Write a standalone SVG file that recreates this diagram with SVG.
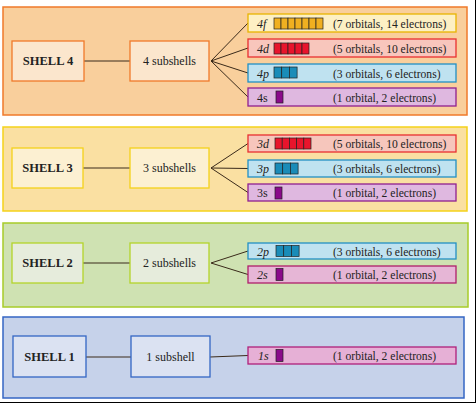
<svg xmlns="http://www.w3.org/2000/svg" width="476" height="403" viewBox="0 0 476 403">
<style>
text{font-family:"Liberation Serif","Times New Roman",serif;fill:#222;font-size:12px}
.sh{font-weight:bold;font-size:12.5px}
.ctr{text-anchor:middle}
.desc{font-size:11.6px}
.lab{font-style:italic;font-size:12px}
.up{font-style:normal}
.con line{stroke:#3a2a1a;stroke-width:1}
.box{stroke-width:1.3}
.orb{stroke:#222;stroke-width:0.7}
</style>
<rect width="476" height="403" fill="#ffffff"/>
<line x1="475.5" y1="0" x2="475.5" y2="403" stroke="#000" stroke-width="1"/>
<line x1="0" y1="402.5" x2="476" y2="402.5" stroke="#000" stroke-width="1"/>

<!-- panels -->
<g id="panel4"><rect x="3" y="7" width="464" height="108" fill="#f9cf9c" stroke="#f07a2a" stroke-width="1.5"/></g>
<g id="panel3"><rect x="3" y="127" width="464" height="84" fill="#fae0a2" stroke="#f5d21a" stroke-width="1.5"/></g>
<g id="panel2"><rect x="3" y="223" width="465" height="84" fill="#cfe2b2" stroke="#a8cc28" stroke-width="1.5"/></g>
<g id="panel1"><rect x="3" y="317" width="461" height="81" fill="#c6d2ea" stroke="#3466c4" stroke-width="1.5"/></g>

<g id="connectors" class="con">
<line x1="84" y1="61" x2="130" y2="61"/>
<line x1="211" y1="61" x2="248" y2="23"/>
<line x1="211" y1="61" x2="248" y2="48"/>
<line x1="211" y1="61" x2="248" y2="73"/>
<line x1="211" y1="61" x2="248" y2="97"/>
<line x1="83" y1="168" x2="130" y2="168"/>
<line x1="211" y1="168" x2="248" y2="143.5"/>
<line x1="211" y1="168" x2="248" y2="168.5"/>
<line x1="211" y1="168" x2="248" y2="192.5"/>
<line x1="83" y1="263" x2="130" y2="263"/>
<line x1="211" y1="263" x2="248" y2="251"/>
<line x1="211" y1="263" x2="248" y2="274.5"/>
<line x1="86" y1="357" x2="131" y2="357"/>
<line x1="210" y1="357" x2="248" y2="355.5"/>
</g>

<!-- shell 4 -->
<g id="shell4"><rect class="box" x="12" y="41" width="72" height="40" fill="#fbe6cd" stroke="#f07a2a"/><text class="sh ctr" x="48" y="65">SHELL 4</text></g>
<g id="sub4"><rect class="box" x="130" y="41" width="79" height="40" fill="#fbe6cd" stroke="#f07a2a"/><text class="ctr" x="169.5" y="65">4 subshells</text></g>
<g id="s4f"><rect x="248" y="14" width="208" height="18" fill="#fdf0c4" stroke="#e8b400" stroke-width="1.3"/>
<text class="lab" x="257" y="27.5">4f</text>
<g class="orb" fill="#f0b020"><rect x="274" y="18" width="7" height="11"/><rect x="281" y="18" width="7" height="11"/><rect x="288" y="18" width="7" height="11"/><rect x="295" y="18" width="7" height="11"/><rect x="302" y="18" width="7" height="11"/><rect x="309" y="18" width="7" height="11"/><rect x="316" y="18" width="7" height="11"/></g>
<text class="desc" x="333" y="27.5">(7 orbitals, 14 electrons)</text></g>
<g id="s4d"><rect x="248" y="39" width="208" height="18" fill="#f8c6bc" stroke="#e83030" stroke-width="1.3"/>
<text class="lab" x="257" y="52.5">4d</text>
<g class="orb" fill="#e8142c"><rect x="274" y="43" width="7" height="11"/><rect x="281" y="43" width="7" height="11"/><rect x="288" y="43" width="7" height="11"/><rect x="295" y="43" width="7" height="11"/><rect x="302" y="43" width="7" height="11"/></g>
<text class="desc" x="333" y="52.5">(5 orbitals, 10 electrons)</text></g>
<g id="s4p"><rect x="248" y="64" width="208" height="18" fill="#bfe2f0" stroke="#2290c4" stroke-width="1.3"/>
<text class="lab" x="257" y="77.5">4p</text>
<g class="orb" fill="#1a8cb8"><rect x="274" y="67" width="7.7" height="11"/><rect x="281.7" y="67" width="7.7" height="11"/><rect x="289.4" y="67" width="7.7" height="11"/></g>
<text class="desc" x="333" y="77.5">(3 orbitals, 6 electrons)</text></g>
<g id="s4s"><rect x="248" y="88" width="208" height="18" fill="#dfb8e0" stroke="#902090" stroke-width="1.3"/>
<text x="257" y="101.5">4s</text>
<rect class="orb" x="276" y="91" width="7" height="12" fill="#8a0a8a"/>
<text class="desc" x="333" y="101.5">(1 orbital, 2 electrons)</text></g>

<!-- shell 3 -->
<g id="shell3"><rect class="box" x="12" y="148" width="71" height="40" fill="#fcf0d2" stroke="#f5d21a"/><text class="sh ctr" x="47.5" y="172">SHELL 3</text></g>
<g id="sub3"><rect class="box" x="130" y="148" width="79" height="40" fill="#fcf0d2" stroke="#f5d21a"/><text class="ctr" x="169.5" y="172">3 subshells</text></g>
<g id="s3d"><rect x="248" y="135" width="208" height="17" fill="#f6c6bc" stroke="#e83030" stroke-width="1.3"/>
<text class="lab" x="257" y="148">3d</text>
<g class="orb" fill="#e8142c"><rect x="275" y="138" width="7.2" height="11"/><rect x="282.2" y="138" width="7.2" height="11"/><rect x="289.4" y="138" width="7.2" height="11"/><rect x="296.6" y="138" width="7.2" height="11"/><rect x="303.8" y="138" width="7.2" height="11"/></g>
<text class="desc" x="333" y="148">(5 orbitals, 10 electrons)</text></g>
<g id="s3p"><rect x="248" y="160" width="208" height="17" fill="#bfe2f0" stroke="#2290c4" stroke-width="1.3"/>
<text class="lab" x="257" y="173">3p</text>
<g class="orb" fill="#1a8cb8"><rect x="275" y="163" width="7.7" height="11"/><rect x="282.7" y="163" width="7.7" height="11"/><rect x="290.4" y="163" width="7.7" height="11"/></g>
<text class="desc" x="333" y="173">(3 orbitals, 6 electrons)</text></g>
<g id="s3s"><rect x="248" y="184" width="208" height="17" fill="#dfb8e0" stroke="#902090" stroke-width="1.3"/>
<text x="257" y="197">3s</text>
<rect class="orb" x="275" y="187" width="7" height="12" fill="#8a0a8a"/>
<text class="desc" x="333" y="197">(1 orbital, 2 electrons)</text></g>

<!-- shell 2 -->
<g id="shell2"><rect class="box" x="12" y="243" width="71" height="40" fill="#e6ecdc" stroke="#b4d42a"/><text class="sh ctr" x="47.5" y="267">SHELL 2</text></g>
<g id="sub2"><rect class="box" x="130" y="243" width="79" height="40" fill="#e6ecdc" stroke="#b4d42a"/><text class="ctr" x="169.5" y="267">2 subshells</text></g>
<g id="s2p"><rect x="248" y="243" width="208" height="16" fill="#bfe2f0" stroke="#2290c4" stroke-width="1.3"/>
<text class="lab" x="257" y="255.5">2p</text>
<g class="orb" fill="#1a8cb8"><rect x="276" y="245.5" width="7.7" height="11"/><rect x="283.7" y="245.5" width="7.7" height="11"/><rect x="291.4" y="245.5" width="7.7" height="11"/></g>
<text class="desc" x="333" y="255.5">(3 orbitals, 6 electrons)</text></g>
<g id="s2s"><rect x="248" y="266" width="208" height="17" fill="#e6b6d6" stroke="#b0206a" stroke-width="1.3"/>
<text class="lab" x="257" y="279">2s</text>
<rect class="orb" x="276" y="268.5" width="7" height="12" fill="#8a0a8a"/>
<text class="desc" x="333" y="279">(1 orbital, 2 electrons)</text></g>

<!-- shell 1 -->
<g id="shell1"><rect class="box" x="13" y="336" width="73" height="41" fill="#dbe2f2" stroke="#3466c4"/><text class="sh ctr" x="49.5" y="361">SHELL 1</text></g>
<g id="sub1"><rect class="box" x="131" y="336" width="79" height="41" fill="#dbe2f2" stroke="#3466c4"/><text class="ctr" x="170.5" y="361">1 subshell</text></g>
<g id="s1s"><rect x="248" y="347" width="208" height="17" fill="#e6b0d6" stroke="#b0207a" stroke-width="1.3"/>
<text class="lab" x="258" y="360">1s</text>
<rect class="orb" x="276" y="349.5" width="7" height="12" fill="#8a0a8a"/>
<text class="desc" x="333" y="360">(1 orbital, 2 electrons)</text></g>
</svg>
